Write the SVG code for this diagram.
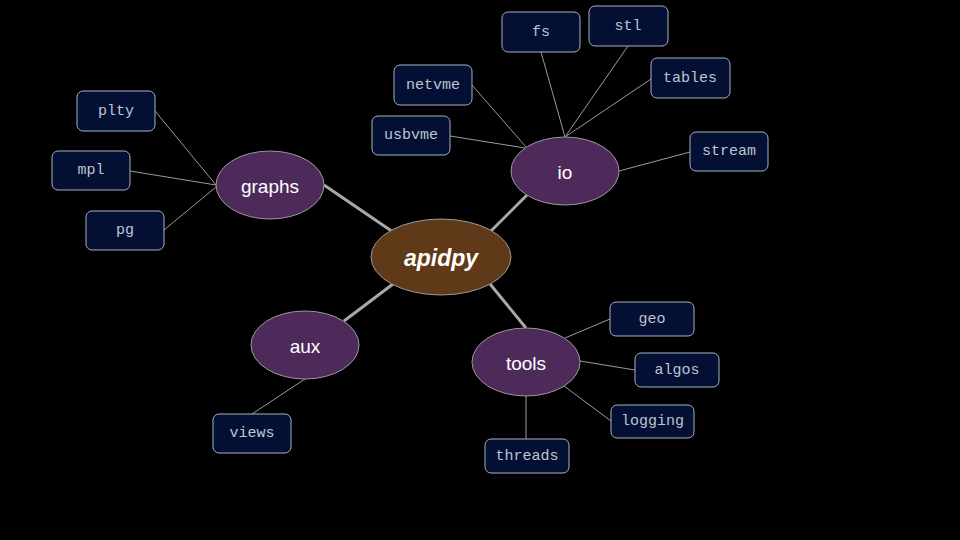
<svg xmlns="http://www.w3.org/2000/svg" width="960" height="540" viewBox="0 0 960 540">
<style>
.hub{fill:#4d2a5a;stroke:#9a9a9a;stroke-width:1}
.root{fill:#603a18;stroke:#9a9a9a;stroke-width:1}
.box{fill:#031034;stroke:#a8b0c0;stroke-width:1}
.ht{font-family:"Liberation Sans",Arial,sans-serif;font-size:19px;fill:#ffffff;text-anchor:middle;dominant-baseline:central}
.rt{font-family:"Liberation Sans",Arial,sans-serif;font-size:23px;font-weight:bold;font-style:italic;fill:#ffffff;text-anchor:middle;dominant-baseline:central}
.bt{font-family:"Liberation Mono","Courier New",monospace;font-size:15px;fill:#bfc4cf;text-anchor:middle;dominant-baseline:central}
.thick{stroke:#a8a8a8;stroke-width:3;fill:none}
.thin{stroke:#9a9a9a;stroke-width:1;fill:none}
</style>
<rect width="960" height="540" fill="#000"/>
<g id="connectors">
<line class="thick" x1="324" y1="185" x2="393" y2="232"/>
<line class="thick" x1="527" y1="195" x2="490" y2="232"/>
<line class="thick" x1="344" y1="321" x2="393" y2="284"/>
<line class="thick" x1="526" y1="328" x2="490" y2="284"/>
<line class="thin" x1="155" y1="111" x2="216" y2="185"/>
<line class="thin" x1="130" y1="171" x2="216" y2="185"/>
<line class="thin" x1="164" y1="230" x2="216" y2="187"/>
<line class="thin" x1="450" y1="136" x2="525" y2="148"/>
<line class="thin" x1="472" y1="85" x2="526" y2="147"/>
<line class="thin" x1="541" y1="52" x2="565" y2="137"/>
<line class="thin" x1="628" y1="46" x2="565" y2="137"/>
<line class="thin" x1="651" y1="79" x2="565" y2="137"/>
<line class="thin" x1="690" y1="152" x2="619" y2="171"/>
<line class="thin" x1="610" y1="319" x2="565" y2="338"/>
<line class="thin" x1="635" y1="370" x2="580" y2="361"/>
<line class="thin" x1="611" y1="421" x2="564" y2="386"/>
<line class="thin" x1="526" y1="439" x2="526" y2="396"/>
<line class="thin" x1="252" y1="414" x2="305" y2="379"/>
</g>
<g id="apidpy"><ellipse class="root" cx="441" cy="257" rx="70" ry="38"/><text class="rt" x="441" y="258">apidpy</text></g>
<g id="graphs"><ellipse class="hub" cx="270" cy="185" rx="54" ry="34"/><text class="ht" x="270" y="186">graphs</text></g>
<g id="io"><ellipse class="hub" cx="565" cy="171" rx="54" ry="34"/><text class="ht" x="565" y="172">io</text></g>
<g id="aux"><ellipse class="hub" cx="305" cy="345" rx="54" ry="34"/><text class="ht" x="305" y="346">aux</text></g>
<g id="tools"><ellipse class="hub" cx="526" cy="362" rx="54" ry="34"/><text class="ht" x="526" y="363">tools</text></g>
<g id="fs"><rect class="box" x="502" y="12" width="78" height="40" rx="6"/><text class="bt" x="541" y="32">fs</text></g>
<g id="stl"><rect class="box" x="589" y="6" width="79" height="40" rx="6"/><text class="bt" x="628" y="26">stl</text></g>
<g id="tables"><rect class="box" x="651" y="58" width="79" height="40" rx="6"/><text class="bt" x="690" y="78">tables</text></g>
<g id="netvme"><rect class="box" x="394" y="65" width="78" height="40" rx="6"/><text class="bt" x="433" y="85">netvme</text></g>
<g id="usbvme"><rect class="box" x="372" y="116" width="78" height="39" rx="6"/><text class="bt" x="411" y="135.5">usbvme</text></g>
<g id="stream"><rect class="box" x="690" y="132" width="78" height="39" rx="6"/><text class="bt" x="729" y="151.5">stream</text></g>
<g id="plty"><rect class="box" x="77" y="91" width="78" height="40" rx="6"/><text class="bt" x="116" y="111">plty</text></g>
<g id="mpl"><rect class="box" x="52" y="151" width="78" height="39" rx="6"/><text class="bt" x="91" y="170.5">mpl</text></g>
<g id="pg"><rect class="box" x="86" y="211" width="78" height="39" rx="6"/><text class="bt" x="125" y="230.5">pg</text></g>
<g id="geo"><rect class="box" x="610" y="302" width="84" height="34" rx="6"/><text class="bt" x="652" y="319">geo</text></g>
<g id="algos"><rect class="box" x="635" y="353" width="84" height="34" rx="6"/><text class="bt" x="677" y="370">algos</text></g>
<g id="logging"><rect class="box" x="611" y="405" width="83" height="33" rx="6"/><text class="bt" x="652.5" y="421.5">logging</text></g>
<g id="threads"><rect class="box" x="485" y="439" width="84" height="34" rx="6"/><text class="bt" x="527" y="456">threads</text></g>
<g id="views"><rect class="box" x="213" y="414" width="78" height="39" rx="6"/><text class="bt" x="252" y="433.5">views</text></g>
</svg>
